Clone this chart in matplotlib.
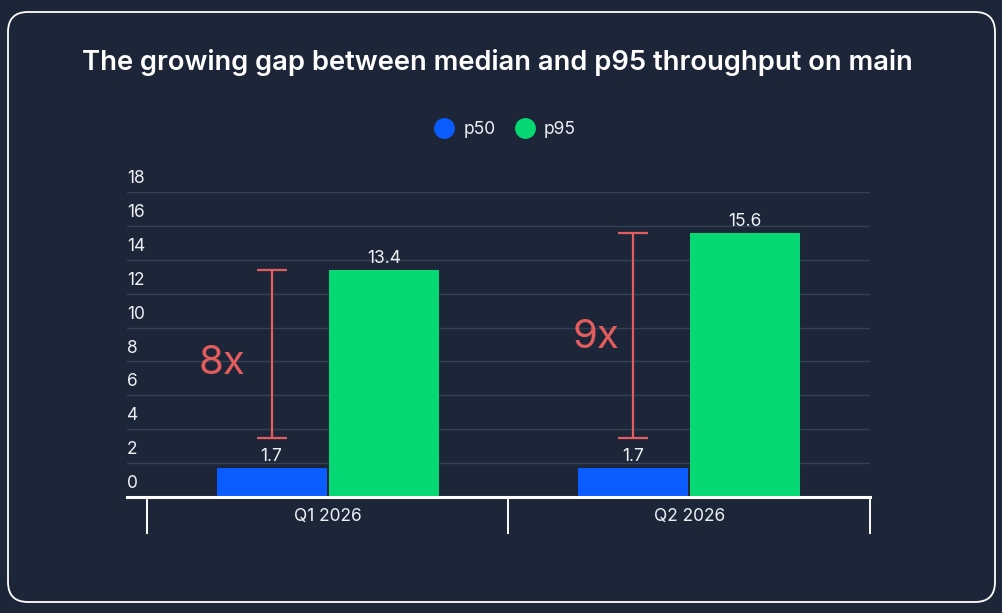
import numpy as np
import matplotlib
matplotlib.use("Agg")
import matplotlib.pyplot as plt
import matplotlib.transforms as mtransforms
from matplotlib.patches import FancyBboxPatch
from matplotlib.lines import Line2D

plt.rcParams['font.family'] = ['Inter', 'DejaVu Sans']

quarters = ['Q1 2026', 'Q2 2026']
p50 = [1.7, 1.7]
p95 = [13.4, 15.6]
gap_low = [3.5, 3.5]
gap_labels = ['8x', '9x']
yticks = [0, 2, 4, 6, 8, 10, 12, 14, 16, 18]

bg = '#1d2639'
blue = '#0a5cff'
green = '#06d874'
red = '#e35d5d'
grid_col = '#364055'
text_col = '#eef0f4'

fig = plt.figure(figsize=(10.03, 6.13), dpi=100, facecolor=bg)

# rounded frame in pixel coords
frame = FancyBboxPatch((8, 11), 987, 590, boxstyle='round,pad=0,rounding_size=20',
                       transform=mtransforms.IdentityTransform(),
                       facecolor='none', edgecolor='white', linewidth=1.3)
fig.patches.append(frame)

fig.text(0.496, 1 - 62 / 613, 'The growing gap between median and p95 throughput on main',
         ha='center', va='center', color='white', fontsize=19.7, fontweight='semibold')

ax = fig.add_axes([127 / 1003, 116 / 613, 743 / 1003, 305 / 613])
ax.set_facecolor(bg)
ax.set_xlim(-0.555, 1.5)
ax.set_ylim(0, 18)

x = np.arange(len(quarters))
w = 0.304
off = 0.155

for v in yticks[1:]:
    ax.axhline(v, color=grid_col, lw=1, zorder=0)

b1 = ax.bar(x - off, p50, width=w, color=blue, zorder=2)
b2 = ax.bar(x + off, p95, width=w, color=green, zorder=2)

for bars, vals in ((b1, p50), (b2, p95)):
    for r, v in zip(bars, vals):
        ax.annotate(f'{v}', (r.get_x() + r.get_width() / 2, v), xytext=(0, 2),
                    textcoords='offset points', ha='center', va='bottom',
                    color=text_col, fontsize=12.5)

# gap error bars at p50 bar centre
for i in range(len(quarters)):
    lo, hi = gap_low[i], p95[i]
    ax.errorbar(x[i] - off, (lo + hi) / 2, yerr=(hi - lo) / 2, fmt='none',
                ecolor=red, elinewidth=1.6, capsize=11, capthick=1.6, zorder=3)

ax.annotate(gap_labels[0], (x[0] - off, (gap_low[0] + p95[0]) / 2), xytext=(-19, -7),
            textcoords='offset points', ha='right', va='center', color=red, fontsize=29)
ax.annotate(gap_labels[1], (x[1] - off, (gap_low[1] + p95[1]) / 2), xytext=(-10, -2),
            textcoords='offset points', ha='right', va='center', color=red, fontsize=29)

# y tick labels sit above the gridlines
for v in yticks:
    ax.annotate(str(v), (0, v), xycoords=ax.get_yaxis_transform(), xytext=(0, 3.5),
                textcoords='offset points', ha='left', va='bottom',
                color=text_col, fontsize=12.5)

for s in ['top', 'right', 'left']:
    ax.spines[s].set_visible(False)
ax.spines['bottom'].set_color('white')
ax.spines['bottom'].set_linewidth(2.2)
ax.spines['bottom'].set_zorder(4)
ax.set_yticks([])
ax.set_xticks(x)
ax.set_xticklabels(quarters, color=text_col, fontsize=12.5)
ax.tick_params(axis='x', length=0, pad=8)

trans = ax.get_xaxis_transform()
for edge in [-0.5, 0.5, 1.5]:
    ax.plot([edge, edge], [0, -36 / 305], transform=trans, color='white', lw=1.4,
            clip_on=False)

handles = [Line2D([], [], marker='o', ls='', color=blue, markersize=14),
           Line2D([], [], marker='o', ls='', color=green, markersize=14)]
leg = fig.legend(handles, ['p50', 'p95'], loc='center', bbox_to_anchor=(0.500, 1 - 130 / 613),
                 ncol=2, frameon=False, fontsize=12.5, handletextpad=0.1, columnspacing=0.7,
                 labelcolor=text_col)

fig.savefig('out.png', dpi=100, facecolor=bg)
